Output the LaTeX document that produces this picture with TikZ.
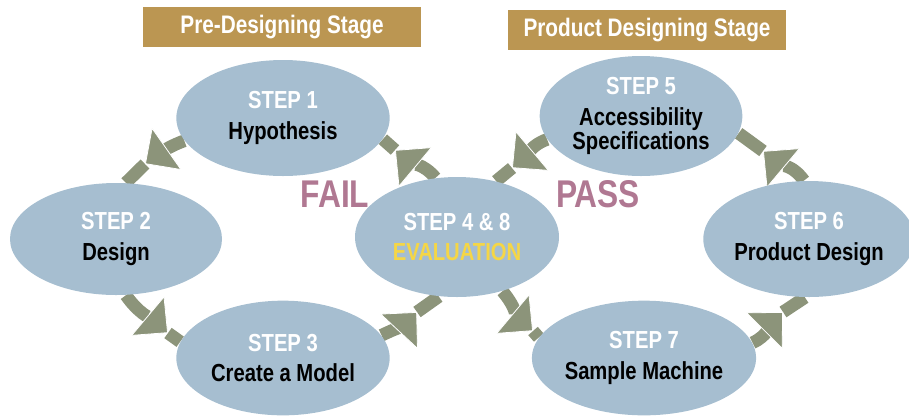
\documentclass[tikz,border=0pt]{standalone}
\usepackage{fontspec}
\setmainfont{Liberation Sans}[FakeStretch=0.82]
\usetikzlibrary{shapes.geometric,arrows.meta,backgrounds}
\definecolor{stepblue}{RGB}{166,190,208}
\definecolor{flowgreen}{RGB}{140,148,122}
\definecolor{stagegold}{RGB}{187,150,82}
\definecolor{verdictpink}{RGB}{176,120,146}
\definecolor{evalyellow}{RGB}{245,214,70}
\newcommand{\stepno}[1]{{\color{white}\fontsize{18.5}{23}\selectfont #1}}
\tikzset{every picture/.style={line width=0.75pt}}

\begin{document}
\begin{tikzpicture}[x=0.75pt,y=0.75pt,yscale=-1,xscale=1,
  stepnode/.style={ellipse, fill=stepblue, inner sep=0pt, align=center,
    font=\bfseries\fontsize{18.5}{23}\selectfont},
  stagebox/.style={fill=stagegold, text=white, font=\bfseries\fontsize{19}{21}\selectfont,
    minimum width=208.5pt, minimum height=30pt, inner sep=0pt},
  verdict/.style={text=verdictpink, font=\bfseries\fontsize{29}{31}\selectfont},
  flowtail/.style={draw=flowgreen, line width=9.5pt},
  flow/.style={flowtail, -{Triangle[width=39pt,length=20pt,fill=flowgreen,color=white,line width=0.6pt]}}]
\useasboundingbox (0,0) rectangle (909,419);

%Stage headers
\node[stagebox] (pre) at (282,27) {Pre-Designing Stage};
\node[stagebox] (prod) at (647,30) {Product Designing Stage};

%Steps
\node[stepnode, minimum width=160pt, minimum height=87pt] (s1) at (283,118) {\stepno{STEP 1}\\Hypothesis};
\node[stepnode, minimum width=159pt, minimum height=84pt] (s2) at (116,239) {\stepno{STEP 2}\\Design};
\node[stepnode, minimum width=160pt, minimum height=86pt] (s3) at (283,358) {\stepno{STEP 3}\\Create a Model};
\node[stepnode, minimum width=153pt, minimum height=90pt] (s4) at (457,237) {\stepno{STEP 4 \& 8}\\\textcolor{evalyellow}{EVALUATION}};
\node[stepnode, minimum width=152pt, minimum height=90pt] (s5) at (641,116) {\stepno{STEP 5}\\Accessibility\\[-5pt]Specifications};
\node[stepnode, minimum width=152pt, minimum height=87pt] (s6) at (809,239) {\stepno{STEP 6}\\Product Design};
\node[stepnode, minimum width=159pt, minimum height=86pt] (s7) at (644,358) {\stepno{STEP 7}\\Sample Machine};

%Verdicts
\node[verdict] (fail) at (335,194) {FAIL};
\node[verdict] (pass) at (598,194) {PASS};

%Arrow tips
\coordinate (t41) at (395,150);
\coordinate (t12) at (145,164);
\coordinate (t23) at (168,333);
\coordinate (t34) at (417,312);
\coordinate (t47) at (533,331);
\coordinate (t76) at (783,312);
\coordinate (t65) at (763,151);
\coordinate (t54) at (512,168);

\begin{scope}[on background layer]
%Fail loop
\draw[flowtail] (t41) -- (s1.-12);
\draw[flow] (s4.110) to[out=-130,in=40] (t41);
\draw[flowtail] (t12) -- (s2.80);
\draw[flow] (s1.193) to[out=160,in=-35] (t12);
\draw[flowtail] (t23) -- (s3.171);
\draw[flow] (s2.280) to[out=55,in=-140] (t23);
\draw[flowtail] (t34) -- (s4.253);
\draw[flow] (s3.13) to[out=-25,in=133] (t34);
%Pass loop
\draw[flowtail] (t47) -- (s7.169);
\draw[flow] (s4.-50) to[out=50,in=-140] (t47);
\draw[flowtail] (t76) -- (s6.266);
\draw[flow] (s7.8) to[out=-25,in=135] (t76);
\draw[flowtail] (t65) -- (s5.-10);
\draw[flow] (s6.95) to[out=-125,in=40] (t65);
\draw[flowtail] (t54) -- (s4.55);
\draw[flow] (s5.194) to[out=160,in=-40] (t54);
\end{scope}

\end{tikzpicture}
\end{document}
